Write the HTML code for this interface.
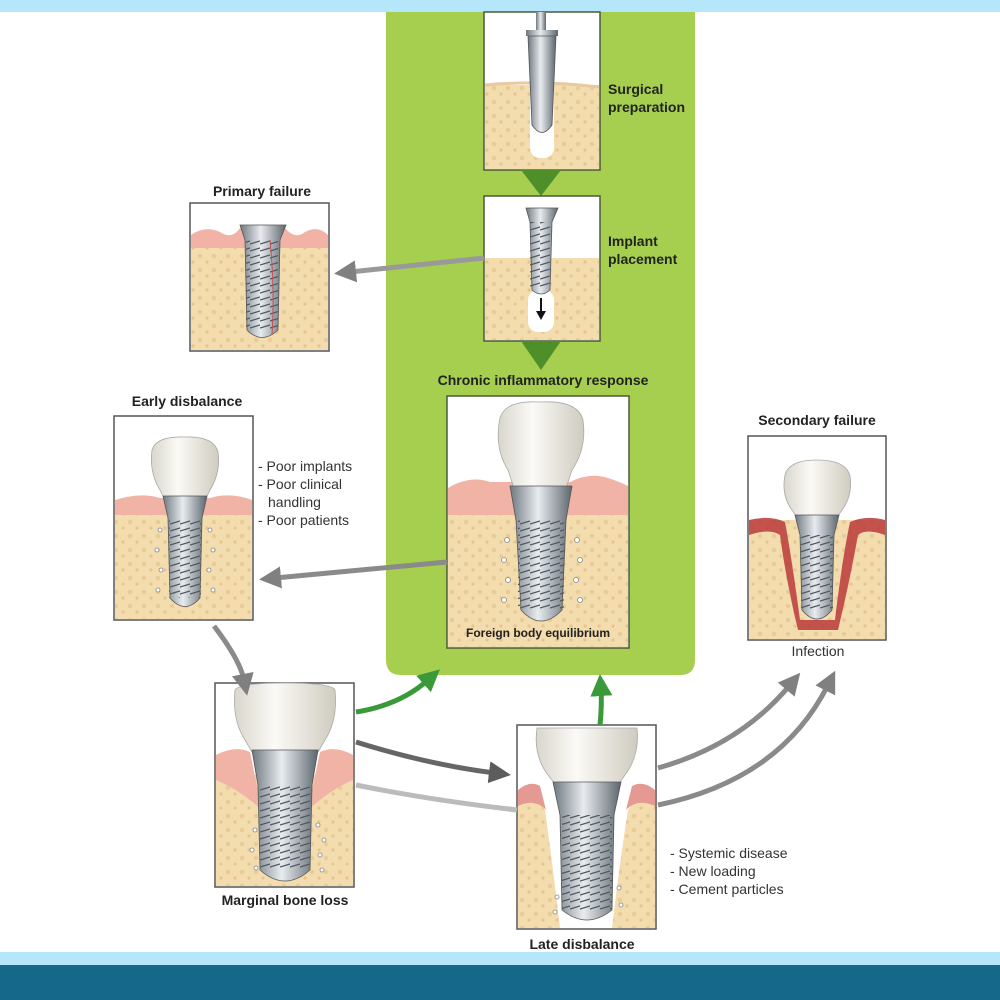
<!DOCTYPE html>
<html><head><meta charset="utf-8"><style>
html,body{margin:0;padding:0;background:#fff;}
svg{display:block}
text{font-family:"Liberation Sans",sans-serif;}
</style></head><body>
<svg width="1000" height="1000" viewBox="0 0 1000 1000" xmlns="http://www.w3.org/2000/svg">
<defs>
<pattern id="bone" width="14" height="14" patternUnits="userSpaceOnUse">
<rect width="14" height="14" fill="#f3dcae"/>
<circle cx="4" cy="4" r="2.2" fill="#e6c48a" opacity="0.7"/>
<circle cx="11" cy="10" r="1.6" fill="#e2bd82" opacity="0.7"/>
</pattern>
<linearGradient id="metal" x1="0" x2="1">
<stop offset="0" stop-color="#6f7880"/><stop offset="0.45" stop-color="#e8ecef"/><stop offset="1" stop-color="#5d666e"/>
</linearGradient>
<linearGradient id="crown" x1="0" x2="1">
<stop offset="0" stop-color="#d9d6cc"/><stop offset="0.4" stop-color="#fbfaf6"/><stop offset="1" stop-color="#cfcbbf"/>
</linearGradient>
<pattern id="thread" width="10" height="7" patternUnits="userSpaceOnUse">
<rect width="10" height="7" fill="none"/>
<path d="M0 6 L10 3" stroke="#4f575e" stroke-width="1.3"/>
</pattern>
<marker id="agr" markerWidth="22" markerHeight="22" refX="6" refY="11" orient="auto" markerUnits="userSpaceOnUse"><path d="M0 0 L22 11 L0 22z" fill="#808080"/></marker>
<marker id="agd" markerWidth="22" markerHeight="22" refX="6" refY="11" orient="auto" markerUnits="userSpaceOnUse"><path d="M0 0 L22 11 L0 22z" fill="#5c5c5c"/></marker>
<marker id="agn" markerWidth="22" markerHeight="22" refX="6" refY="11" orient="auto" markerUnits="userSpaceOnUse"><path d="M0 0 L22 11 L0 22z" fill="#3a9a3a"/></marker>
</defs>

<!-- green panel -->
<path d="M386 0 H695 V660 Q695 675 680 675 H401 Q386 675 386 660 Z" fill="#a6cf4f"/>
<rect x="0" y="0" width="1000" height="12" fill="#b5e6fa"/>
<rect x="0" y="952" width="1000" height="14" fill="#b5e6fa"/>
<rect x="0" y="965" width="1000" height="35" fill="#15688a"/>

<g stroke="#4a5a3a">
<!-- Surgical preparation -->
<rect x="484" y="12" width="116" height="158" fill="#fff" stroke-width="1.5"/>
</g>
<rect x="485" y="85" width="114" height="84" fill="url(#bone)"/>
<path d="M485 85 Q540 80 599 87" stroke="#e9c9a0" stroke-width="3" fill="none"/>
<rect x="530" y="85" width="24" height="73" rx="10" fill="#fff"/>
<rect x="536" y="12" width="10" height="18" fill="url(#metal)"/>
<path d="M526 30 H558 V36 H526 Z" fill="url(#metal)"/>
<path d="M528 36 H556 L552 125 Q542 140 532 125 Z" fill="url(#metal)" stroke="#555" stroke-width="0.8"/>
<text x="608" y="94" font-size="14" font-weight="bold" fill="#222">Surgical</text>
<text x="608" y="112" font-size="14" font-weight="bold" fill="#222">preparation</text>
<path d="M521 170 H561 L541 196 Z" fill="#4e8f2a"/>

<!-- Implant placement -->
<rect x="484" y="196" width="116" height="145" fill="#fff" stroke="#4a5a3a" stroke-width="1.5"/>
<rect x="485" y="258" width="114" height="82" fill="url(#bone)"/>
<rect x="528" y="290" width="26" height="42" rx="10" fill="#fff"/>
<path d="M526 208 H558 L552 222 L550 290 Q541 298 532 290 L530 222 Z" fill="url(#metal)" stroke="#555" stroke-width="0.8"/>
<rect x="530" y="222" width="20" height="66" fill="url(#thread)"/>
<path d="M541 298 V314" stroke="#111" stroke-width="2"/><path d="M536 311 L541 320 L546 311 Z" fill="#111"/>
<text x="608" y="246" font-size="14" font-weight="bold" fill="#222">Implant</text>
<text x="608" y="264" font-size="14" font-weight="bold" fill="#222">placement</text>
<path d="M521 341 H561 L541 370 Z" fill="#4e8f2a"/>

<!-- Primary failure -->
<text x="262" y="196" font-size="14" font-weight="bold" fill="#222" text-anchor="middle">Primary failure</text>
<rect x="190" y="203" width="139" height="148" fill="#fff" stroke="#555" stroke-width="1.5"/>
<rect x="191" y="238" width="137" height="112" fill="url(#bone)"/>
<path d="M191 235 Q205 225 220 232 Q232 240 240 228 L285 228 Q295 240 305 232 Q318 225 328 235 V248 H191 Z" fill="#f1b3a6"/>
<path d="M240 225 H286 L280 240 L278 330 Q262 345 247 330 L245 240 Z" fill="url(#metal)" stroke="#555" stroke-width="0.8"/>
<rect x="246" y="240" width="32" height="90" fill="url(#thread)"/>
<path d="M270 240 Q275 290 272 335" stroke="#c45050" stroke-width="1" fill="none"/>
<path d="M484 258 L350 272" stroke="#999" stroke-width="5" marker-end="url(#agr)"/>

<!-- Chronic -->
<text x="543" y="385" font-size="14" font-weight="bold" fill="#222" text-anchor="middle">Chronic inflammatory response</text>
<rect x="447" y="396" width="182" height="252" fill="#fff" stroke="#4a5a3a" stroke-width="1.5"/>
<rect x="448" y="505" width="180" height="142" fill="url(#bone)"/>
<path d="M448 488 Q470 475 490 482 L510 482 L570 482 Q590 472 608 478 Q620 482 628 486 V515 H448 Z" fill="#f1b3a6"/>
<path d="M500 418 Q505 400 540 402 Q578 400 583 420 Q587 448 572 470 L566 488 H514 L508 470 Q494 448 500 418 Z" fill="url(#crown)" stroke="#aaa" stroke-width="0.8"/>
<path d="M510 486 H572 L566 520 L562 610 Q541 632 521 610 L516 520 Z" fill="url(#metal)" stroke="#555" stroke-width="0.8"/>
<rect x="518" y="520" width="46" height="90" fill="url(#thread)"/>
<g fill="#fff" stroke="#888" stroke-width="0.8">
<circle cx="507" cy="540" r="2.5"/><circle cx="504" cy="560" r="2.5"/><circle cx="508" cy="580" r="2.5"/><circle cx="504" cy="600" r="2.5"/>
<circle cx="577" cy="540" r="2.5"/><circle cx="580" cy="560" r="2.5"/><circle cx="576" cy="580" r="2.5"/><circle cx="580" cy="600" r="2.5"/>
</g>
<text x="538" y="637" font-size="12" font-weight="bold" fill="#222" text-anchor="middle">Foreign body equilibrium</text>

<!-- Early disbalance -->
<text x="187" y="406" font-size="14" font-weight="bold" fill="#222" text-anchor="middle">Early disbalance</text>
<rect x="114" y="416" width="139" height="204" fill="#fff" stroke="#555" stroke-width="1.5"/>
<rect x="115" y="510" width="137" height="109" fill="url(#bone)"/>
<path d="M115 500 Q140 492 160 498 L210 498 Q230 492 252 500 V515 H115 Z" fill="#f1b3a6"/>
<path d="M152 450 Q156 436 185 437 Q214 436 218 452 Q221 472 210 490 L206 498 H164 L160 490 Q149 472 152 450 Z" fill="url(#crown)" stroke="#aaa" stroke-width="0.8"/>
<path d="M163 496 H207 L202 518 L200 598 Q185 615 170 598 L168 518 Z" fill="url(#metal)" stroke="#555" stroke-width="0.8"/>
<rect x="169" y="518" width="32" height="80" fill="url(#thread)"/>
<g fill="#fff" stroke="#888" stroke-width="0.8">
<circle cx="160" cy="530" r="2"/><circle cx="157" cy="550" r="2"/><circle cx="161" cy="570" r="2"/><circle cx="158" cy="590" r="2"/>
<circle cx="210" cy="530" r="2"/><circle cx="213" cy="550" r="2"/><circle cx="209" cy="570" r="2"/><circle cx="213" cy="590" r="2"/>
</g>
<g font-size="14" fill="#333">
<text x="258" y="471">- Poor implants</text>
<text x="258" y="489">- Poor clinical</text>
<text x="268" y="507">handling</text>
<text x="258" y="525">- Poor patients</text>
</g>
<path d="M447 562 L275 578" stroke="#8a8a8a" stroke-width="5" marker-end="url(#agr)"/>

<!-- Secondary failure -->
<text x="817" y="425" font-size="14" font-weight="bold" fill="#222" text-anchor="middle">Secondary failure</text>
<rect x="748" y="436" width="138" height="204" fill="#fff" stroke="#555" stroke-width="1.5"/>
<rect x="749" y="520" width="136" height="119" fill="url(#bone)"/>
<path d="M749 520 Q770 515 785 522 Q792 560 800 620 L835 620 Q842 560 850 522 Q866 515 885 520 V535 Q866 528 858 535 Q850 580 838 630 L798 630 Q786 580 780 535 Q770 528 749 535 Z" fill="#b93a3a" opacity="0.85"/>
<path d="M785 475 Q789 460 817 460 Q846 460 850 476 Q853 495 842 510 L838 516 H796 L792 510 Q781 495 785 475 Z" fill="url(#crown)" stroke="#aaa" stroke-width="0.8"/>
<path d="M795 515 H839 L834 535 L832 610 Q817 628 802 610 L800 535 Z" fill="url(#metal)" stroke="#555" stroke-width="0.8"/>
<rect x="801" y="535" width="32" height="75" fill="url(#thread)"/>
<text x="818" y="656" font-size="14" fill="#333" text-anchor="middle">Infection</text>

<!-- Marginal bone loss -->
<rect x="215" y="683" width="139" height="204" fill="#fff" stroke="#555" stroke-width="1.5"/>
<rect x="216" y="775" width="137" height="111" fill="url(#bone)"/>
<path d="M216 755 Q235 745 250 752 L262 810 Q240 790 216 780 Z" fill="#f1b3a6"/>
<path d="M353 755 Q335 745 320 752 L308 810 Q330 790 353 780 Z" fill="#f1b3a6"/>
<path d="M235 690 Q238 683 285 683 Q332 683 335 690 Q338 720 325 740 L318 752 H252 L245 740 Q232 720 235 690 Z" fill="url(#crown)" stroke="#aaa" stroke-width="0.8"/>
<path d="M252 750 H318 L312 785 L310 870 Q285 892 260 870 L258 785 Z" fill="url(#metal)" stroke="#555" stroke-width="0.8"/>
<rect x="260" y="785" width="50" height="85" fill="url(#thread)"/>
<g fill="#fff" stroke="#888" stroke-width="0.8">
<circle cx="318" cy="825" r="2"/><circle cx="324" cy="840" r="2"/><circle cx="320" cy="855" r="2"/><circle cx="322" cy="870" r="2"/>
<circle cx="255" cy="830" r="2"/><circle cx="252" cy="850" r="2"/><circle cx="256" cy="868" r="2"/>
</g>
<text x="285" y="905" font-size="14" font-weight="bold" fill="#222" text-anchor="middle">Marginal bone loss</text>

<!-- Late disbalance -->
<rect x="517" y="725" width="139" height="204" fill="#fff" stroke="#555" stroke-width="1.5"/>
<path d="M518 800 Q535 795 545 810 Q552 860 560 928 H518 Z" fill="url(#bone)"/>
<path d="M655 800 Q638 795 628 810 Q620 860 612 928 H655 Z" fill="url(#bone)"/>
<path d="M518 790 Q530 780 540 786 L546 810 Q535 798 518 806 Z" fill="#e49a92"/>
<path d="M655 790 Q643 780 632 786 L626 810 Q637 798 655 806 Z" fill="#e49a92"/>
<path d="M537 728 H637 Q640 755 625 775 L618 785 H556 L548 775 Q533 755 537 728 Z" fill="url(#crown)" stroke="#aaa" stroke-width="0.8"/>
<path d="M553 782 H621 L614 815 L612 910 Q587 930 562 910 L560 815 Z" fill="url(#metal)" stroke="#555" stroke-width="0.8"/>
<rect x="562" y="815" width="50" height="95" fill="url(#thread)"/>
<g fill="#fff" stroke="#888" stroke-width="0.8">
<circle cx="557" cy="897" r="2"/><circle cx="555" cy="912" r="2"/><circle cx="619" cy="888" r="2"/><circle cx="621" cy="905" r="2"/>
</g>
<text x="582" y="949" font-size="14" font-weight="bold" fill="#222" text-anchor="middle">Late disbalance</text>
<g font-size="14" fill="#333">
<text x="670" y="858">- Systemic disease</text>
<text x="670" y="876">- New loading</text>
<text x="670" y="894">- Cement particles</text>
</g>

<!-- connectors -->
<path d="M214 626 Q240 660 244 680" stroke="#8a8a8a" stroke-width="5" fill="none" marker-end="url(#agr)"/>
<path d="M356 712 Q400 705 428 680" stroke="#3a9a3a" stroke-width="5" fill="none" marker-end="url(#agn)"/>
<path d="M600 725 Q602 705 601 690" stroke="#3a9a3a" stroke-width="5" fill="none" marker-end="url(#agn)"/>
<path d="M356 742 Q430 765 495 773" stroke="#666" stroke-width="5" fill="none" marker-end="url(#agd)"/>
<path d="M356 785 Q430 800 517 810" stroke="#bbb" stroke-width="5" fill="none"/>
<path d="M658 768 Q740 745 790 685" stroke="#8a8a8a" stroke-width="5" fill="none" marker-end="url(#agr)"/>
<path d="M658 805 Q780 780 828 685" stroke="#8a8a8a" stroke-width="5" fill="none" marker-end="url(#agr)"/>
</svg>
</body></html>
